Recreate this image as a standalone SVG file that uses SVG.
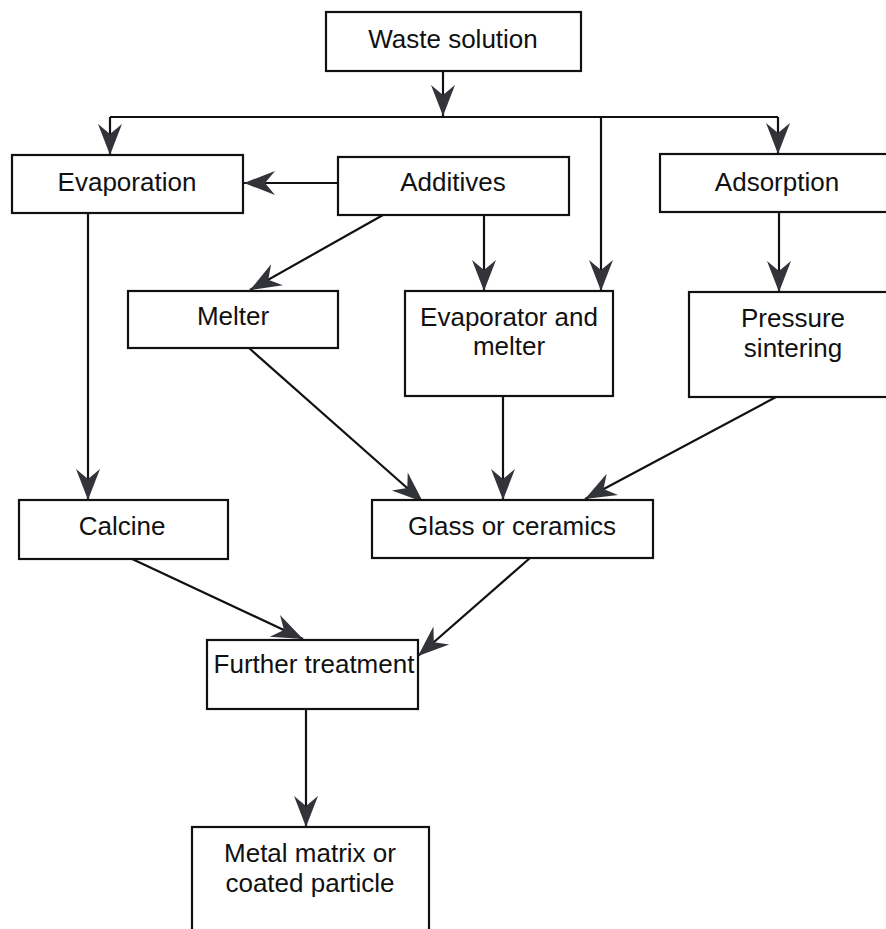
<svg xmlns="http://www.w3.org/2000/svg" width="886" height="929" viewBox="0 0 886 929">
<style>
.box{fill:#fff;stroke:#111;stroke-width:2.2}
.t{font-family:"Liberation Sans",Arial,sans-serif;font-size:26px;fill:#111;text-anchor:middle}
.c{fill:none;stroke:#111;stroke-width:2.2}
.a{marker-end:url(#ah)}
</style>
<defs>
<marker id="ah" markerUnits="userSpaceOnUse" viewBox="-32 -14 34 28" refX="0" refY="0" markerWidth="34" markerHeight="28" orient="auto">
<path d="M0,0 L-31,-12 L-21,0 L-31,12 Z" fill="#33333a"/>
</marker>
</defs>
<rect width="886" height="929" fill="#fff"/>
<g id="connectors">
<line class="c a" x1="443" y1="71" x2="443" y2="116"/>
<polyline class="c" points="110,117 778,117"/>
<line class="c a" x1="110" y1="117" x2="110" y2="155"/>
<line class="c a" x1="601" y1="117" x2="601" y2="291"/>
<line class="c a" x1="778" y1="117" x2="778" y2="154"/>
<line class="c a" x1="338" y1="183" x2="244" y2="183"/>
<line class="c a" x1="484" y1="215" x2="484" y2="291"/>
<line class="c a" x1="383" y1="215" x2="250" y2="290"/>
<line class="c a" x1="779" y1="212" x2="779" y2="292"/>
<line class="c a" x1="88" y1="213" x2="88" y2="500"/>
<line class="c a" x1="249" y1="348" x2="423" y2="502"/>
<line class="c a" x1="503" y1="396" x2="503" y2="500"/>
<line class="c a" x1="776" y1="397" x2="585" y2="499"/>
<line class="c a" x1="130" y1="558" x2="303" y2="639"/>
<line class="c a" x1="530" y1="558" x2="418" y2="656"/>
<line class="c a" x1="306" y1="709" x2="306" y2="827"/>
</g>
<g id="waste-solution"><rect class="box" x="326" y="12" width="255" height="59"/><text class="t" x="453" y="48">Waste solution</text></g>
<g id="evaporation"><rect class="box" x="12" y="155" width="231" height="58"/><text class="t" x="127" y="191">Evaporation</text></g>
<g id="additives"><rect class="box" x="338" y="157" width="231" height="58"/><text class="t" x="453" y="191">Additives</text></g>
<g id="adsorption"><rect class="box" x="660" y="154" width="232" height="58"/><text class="t" x="777" y="191">Adsorption</text></g>
<g id="melter"><rect class="box" x="128" y="291" width="210" height="57"/><text class="t" x="233" y="325">Melter</text></g>
<g id="evaporator-melter"><rect class="box" x="405" y="291" width="208" height="105"/><text class="t" x="509" y="326">Evaporator and</text><text class="t" x="509" y="355">melter</text></g>
<g id="pressure-sintering"><rect class="box" x="689" y="292" width="203" height="105"/><text class="t" x="793" y="327">Pressure</text><text class="t" x="793" y="357">sintering</text></g>
<g id="calcine"><rect class="box" x="19" y="500" width="209" height="59"/><text class="t" x="122" y="535">Calcine</text></g>
<g id="glass-ceramics"><rect class="box" x="372" y="500" width="281" height="58"/><text class="t" x="512" y="535">Glass or ceramics</text></g>
<g id="further-treatment"><rect class="box" x="207" y="640" width="211" height="69"/><text class="t" x="314" y="673">Further treatment</text></g>
<g id="metal-matrix"><rect class="box" x="192" y="827" width="237" height="110"/><text class="t" x="310" y="862">Metal matrix or</text><text class="t" x="310" y="892">coated particle</text></g>
</svg>
